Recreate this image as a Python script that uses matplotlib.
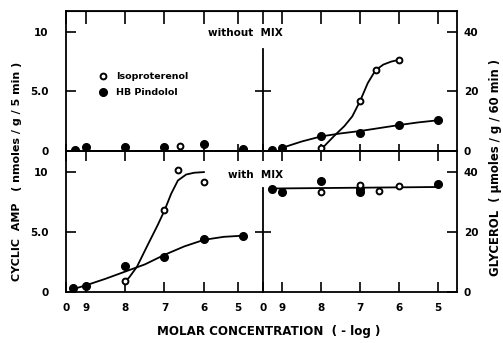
import matplotlib
matplotlib.use("Agg")
import matplotlib.pyplot as plt

plt.rcParams['font.family'] = ['DejaVu Sans']
plt.rcParams['font.weight'] = 'bold'

# x = -log molar concentration, ~9.27 is the control ("0") point

# cyclic AMP, without MIX
camp_wo_iso_x = [6.6]
camp_wo_iso = [0.45]
camp_wo_pin_x = [9.27, 9, 8, 7, 6, 5]
camp_wo_pin = [0.08, 0.3, 0.36, 0.3, 0.59, 0.17]

# glycerol, without MIX
gly_wo_iso_x = [8, 7, 6.6, 6]
gly_wo_iso = [0.9, 16.7, 27.1, 30.6]
gly_wo_pin_x = [9.26, 9, 8, 7, 6, 5]
gly_wo_pin = [0.3, 1.1, 5.2, 6.0, 8.8, 10.3]
# hand drawn curves
gly_wo_iso_cx = [8.0, 7.85, 7.64, 7.4, 7.2, 7.0, 6.8, 6.6, 6.4, 6.2, 6.0]
gly_wo_iso_c = [0.5, 2.6, 5.4, 8.4, 11.6, 16.7, 22.8, 27.1, 29.0, 30.0, 30.6]
gly_wo_pin_cx = [9.0, 8.5, 8.0, 7.5, 7.0, 6.5, 6.0, 5.5, 5.0]
gly_wo_pin_c = [1.1, 3.2, 4.9, 5.9, 6.7, 7.7, 8.7, 9.6, 10.3]

# cyclic AMP, with MIX
camp_w_iso_x = [8, 7, 6.65, 6]
camp_w_iso = [0.9, 6.8, 10.2, 9.2]
camp_w_pin_x = [9.31, 9, 8, 7, 6, 5]
camp_w_pin = [0.3, 0.5, 2.2, 2.9, 4.4, 4.65]
camp_w_iso_cx = [8.0, 7.9, 7.7, 7.43, 7.17, 7.0, 6.83, 6.66, 6.45, 6.24, 6.0]
camp_w_iso_c = [0.9, 1.2, 2.1, 3.9, 5.6, 6.8, 8.2, 9.3, 9.8, 9.95, 10.0]
camp_w_pin_cx = [9.31, 9.0, 8.5, 8.0, 7.5, 7.0, 6.5, 6.0, 5.5, 5.0]
camp_w_pin_c = [0.25, 0.55, 1.1, 1.7, 2.3, 3.1, 3.8, 4.35, 4.6, 4.7]

# glycerol, with MIX
gly_w_iso_x = [8, 7, 6.5, 6]
gly_w_iso = [33.4, 35.7, 33.7, 35.3]
gly_w_pin_x = [9.26, 9, 8, 7, 7, 5]
gly_w_pin = [34.2, 33.2, 37.1, 33.4, 34.3, 35.9]
gly_w_cx = [9.26, 5.0]
gly_w_c = [34.5, 35.0]

xlabels = ['0', '9', '8', '7', '6', '5']
left_ticks = [9.5, 9, 8, 7, 6, 5.14]
right_ticks = [9.5, 9, 8, 7, 6, 5]

fig = plt.figure(figsize=(5.03, 3.43), dpi=100)
L, LW = 66/503, 197/503
R, RW = 263/503, 194/503
TB, TH = 1 - 151/343, 140/343
BB, BH = 1 - 292/343, 141/343

ax_tl = fig.add_axes([L, TB, LW, TH])
ax_tr = fig.add_axes([R, TB, RW, TH])
ax_bl = fig.add_axes([L, BB, LW, BH])
ax_br = fig.add_axes([R, BB, RW, BH])

fs = 7.5
open_kw = dict(ls='none', marker='o', ms=4.2, mfc='white', mec='black', mew=1.4, zorder=4)
fill_kw = dict(ls='none', marker='o', ms=5.5, color='black', zorder=3)
line_kw = dict(color='black', lw=1.3, zorder=2)

# data
p_open, = ax_tl.plot(camp_wo_iso_x, camp_wo_iso, **open_kw)
p_fill, = ax_tl.plot(camp_wo_pin_x, camp_wo_pin, **fill_kw)

ax_tr.plot(gly_wo_iso_cx, gly_wo_iso_c, **line_kw)
ax_tr.plot(gly_wo_pin_cx, gly_wo_pin_c, **line_kw)
ax_tr.plot(gly_wo_pin_x, gly_wo_pin, **fill_kw)
ax_tr.plot(gly_wo_iso_x, gly_wo_iso, **open_kw)

ax_bl.plot(camp_w_iso_cx, camp_w_iso_c, **line_kw)
ax_bl.plot(camp_w_pin_cx, camp_w_pin_c, **line_kw)
ax_bl.plot(camp_w_pin_x, camp_w_pin, **fill_kw)
ax_bl.plot(camp_w_iso_x, camp_w_iso, **open_kw)

ax_br.plot(gly_w_cx, gly_w_c, **line_kw)
ax_br.plot(gly_w_pin_x, gly_w_pin, **fill_kw)
ax_br.plot(gly_w_iso_x, gly_w_iso, **open_kw)

for ax in (ax_tl, ax_tr, ax_bl, ax_br):
    ax.set_facecolor('none')
    ax.set_xlim(9.5, 4.5)
    for s in ax.spines.values():
        s.set_linewidth(1.3)
    ax.tick_params(width=1.2, labelsize=fs, colors='black')

for ax in (ax_tl, ax_bl):
    ax.set_ylim(0, 11.76)
    ax.spines['right'].set_visible(False)
    ax.set_xticks(left_ticks)
    ax.set_yticks([0, 5, 10])
    ax.set_yticklabels(['0', '5.0', '10'])
    ax.tick_params(axis='y', direction='in', length=7, pad=12.5, right=False)

for ax in (ax_tr, ax_br):
    ax.set_ylim(0, 47)
    ax.set_xticks(right_ticks)
    ax.yaxis.tick_right()
    ax.set_yticks([0, 20, 40])
    ax.tick_params(axis='y', direction='in', length=7, pad=5)
    sec = ax.secondary_yaxis('left')
    sec.set_yticks([20])
    sec.tick_params(direction='inout', length=11, width=1.2, labelleft=False)
    sec.spines['left'].set_visible(False)

ax_tr.spines['left'].set_bounds(0, 34.2)
ax_br.spines['left'].set_bounds(0, 34.7)

# top row: short ticks up from the middle line, long ticks down from the top
for ax, ticks in ((ax_tl, left_ticks), (ax_tr, right_ticks)):
    ax.tick_params(axis='x', direction='in', length=5, labelbottom=False)
    sx = ax.secondary_xaxis('top')
    sx.set_xticks(ticks)
    sx.tick_params(direction='in', length=9, width=1.2, labeltop=False)

# bottom row
for ax in (ax_bl, ax_br):
    ax.set_xticklabels(xlabels)
    ax.tick_params(axis='x', direction='in', length=7, top=True, pad=8)

ax_tl.legend(handles=[p_open, p_fill], labels=['Isoproterenol', 'HB Pindolol'],
             loc='center left', bbox_to_anchor=(0.12, 0.475), frameon=False,
             handlelength=1.0, handletextpad=0.9, labelspacing=0.75,
             prop={'size': 6.8, 'weight': 'bold'})

fig.text(245/503, 1 - 33/343, 'without  MIX', ha='center', va='center', fontsize=fs)
fig.text(256/503, 1 - 175/343, 'with  MIX', ha='center', va='center', fontsize=fs)
fig.text(269/503, 1 - 332/343, 'MOLAR CONCENTRATION  ( - log )', ha='center', va='center',
         fontsize=8.6)
fig.text(17/503, 1 - 171/343, 'CYCLIC  AMP   ( nmoles / g / 5 min )', rotation=90,
         ha='center', va='center', fontsize=8)
fig.text(495/503, 1 - 168/343, 'GLYCEROL  ( \u00b5moles / g / 60 min )', rotation=90,
         ha='center', va='center', fontsize=8.4)

fig.savefig('out.png', dpi=100)
